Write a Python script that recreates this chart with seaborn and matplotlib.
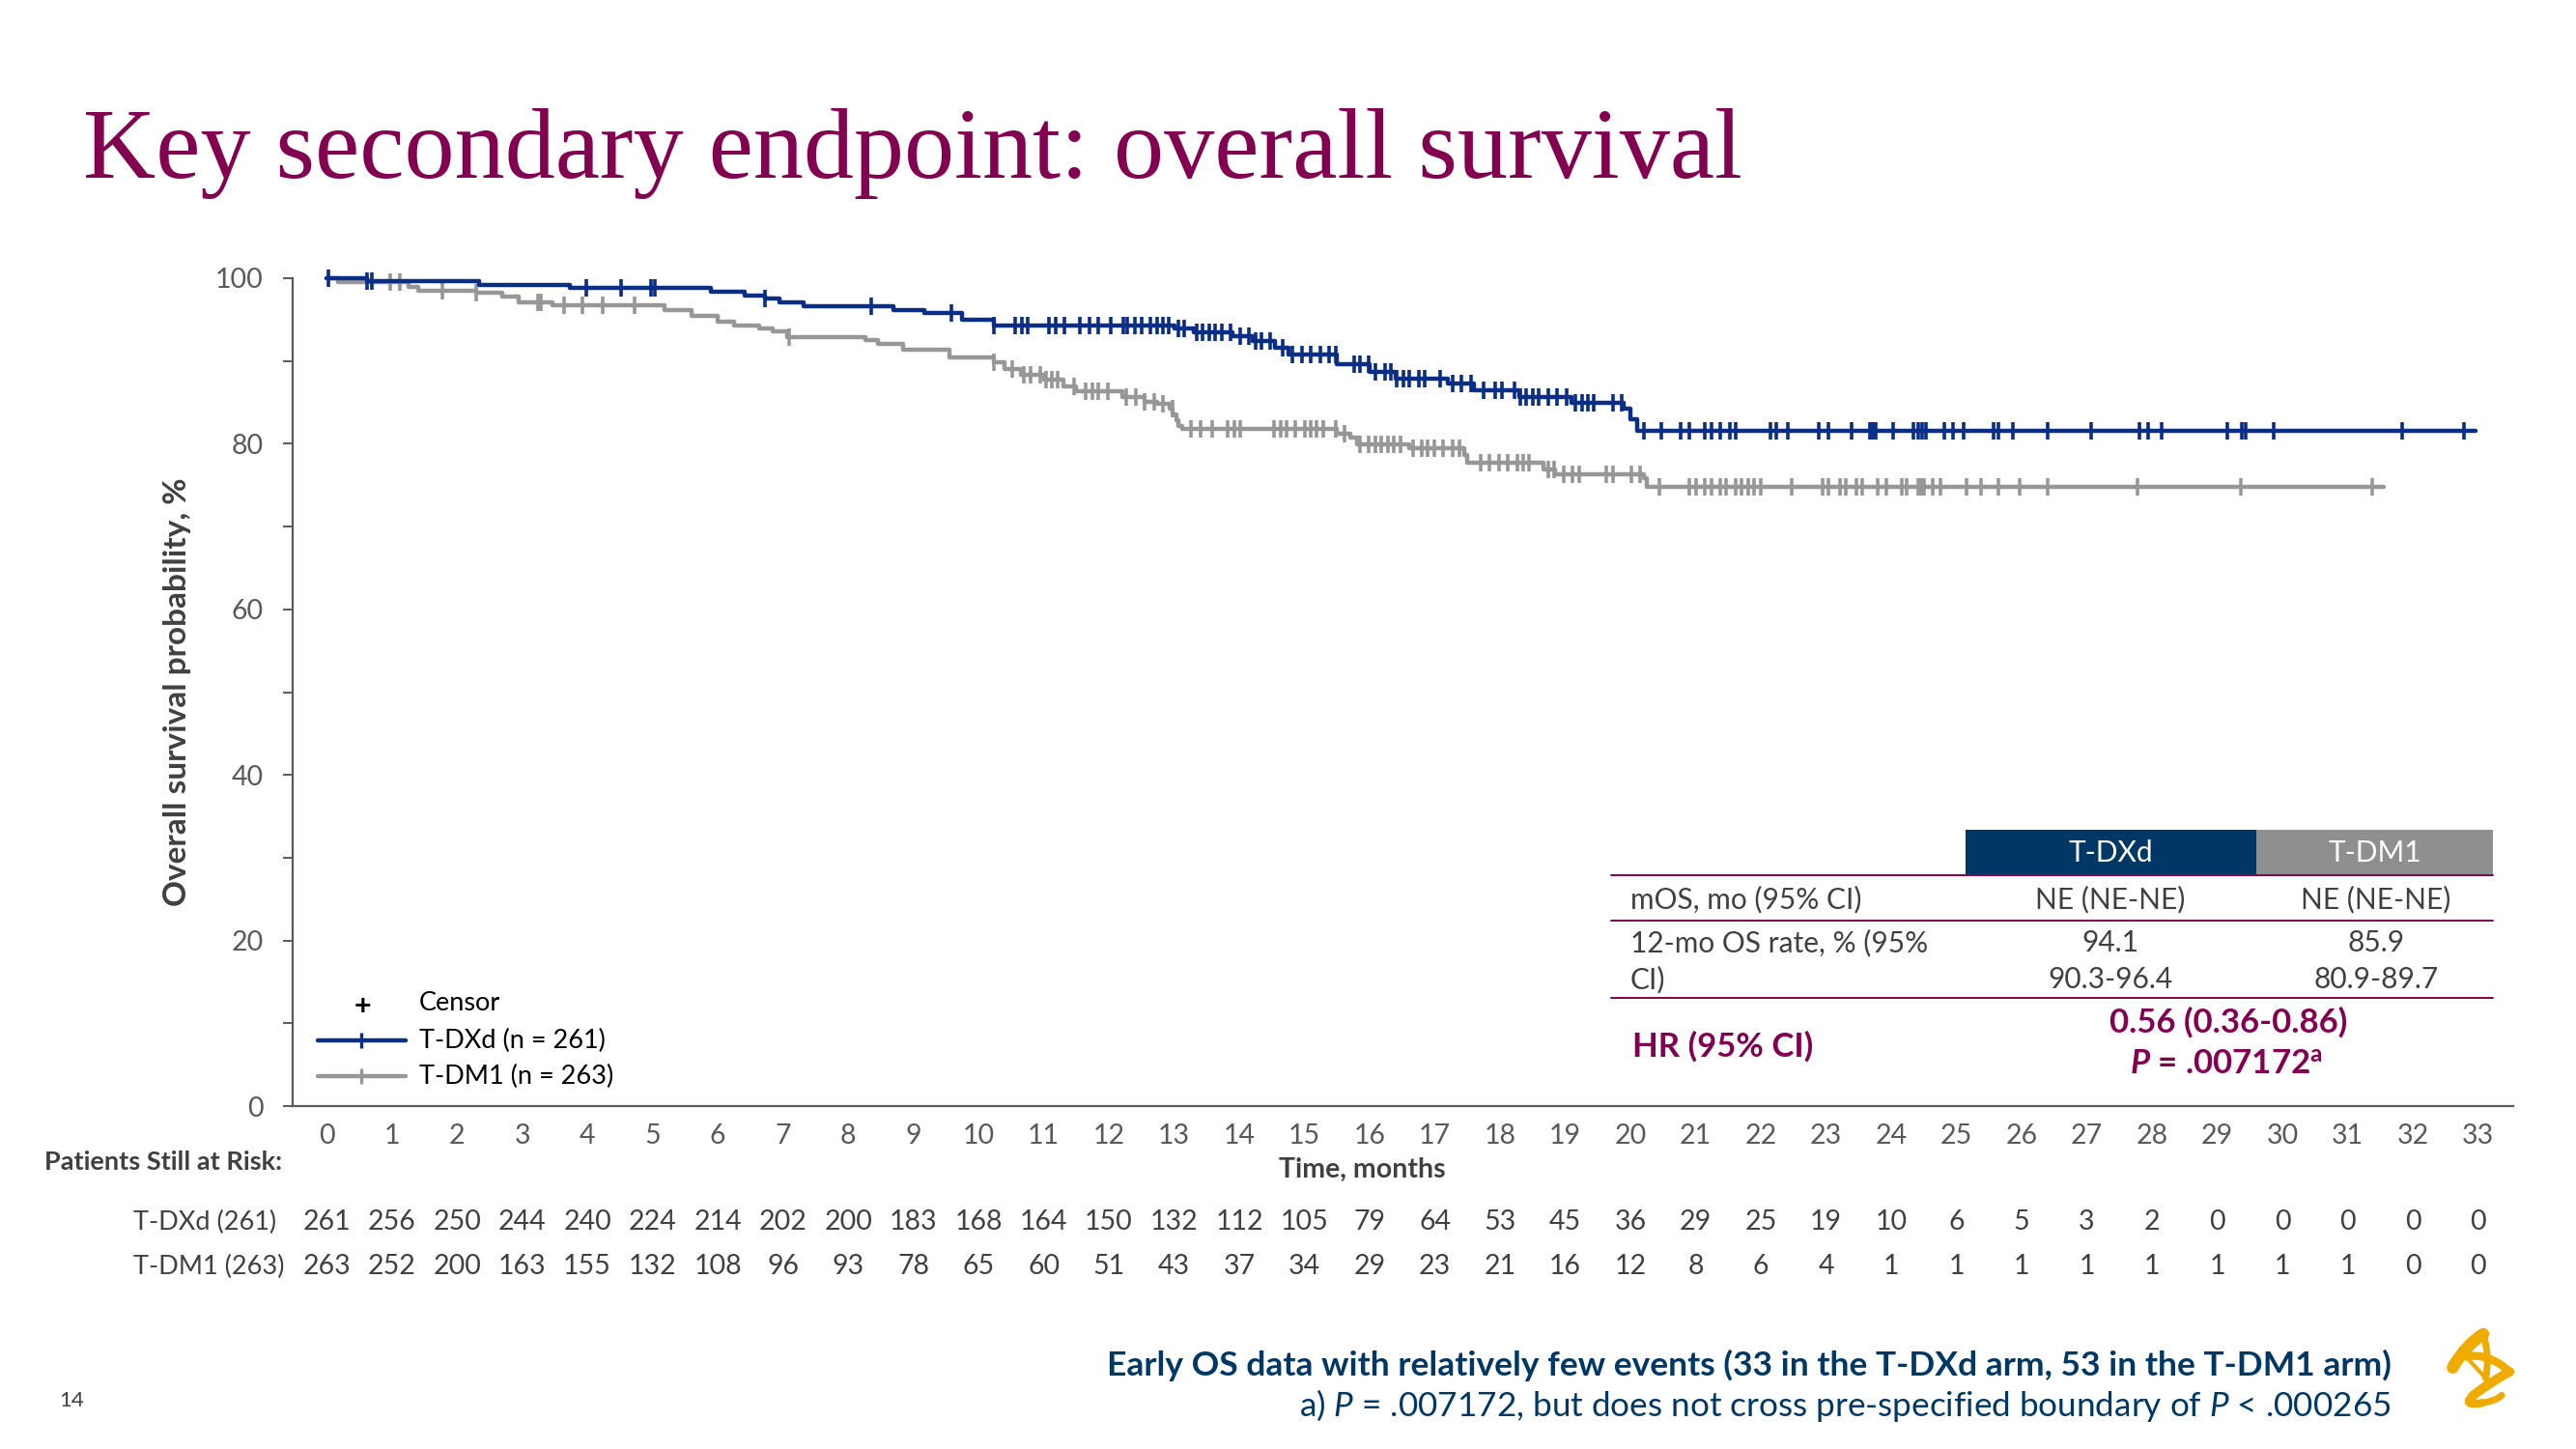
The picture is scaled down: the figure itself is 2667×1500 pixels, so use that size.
import numpy as np
import pandas as pd
import matplotlib
matplotlib.use("Agg")
import matplotlib.pyplot as plt
import matplotlib.transforms as mtransforms
from matplotlib.path import Path
from matplotlib.patches import PathPatch, Rectangle
from matplotlib.lines import Line2D
import seaborn as sns

# ---------------- data ----------------
months = list(range(34))

tdxd_time = [0, 0.62, 2.34, 3.73, 5.90, 6.42, 6.72, 6.95, 7.32, 8.70, 9.17, 9.74, 10.24,
             13.00, 13.30, 13.90, 14.20, 14.55, 14.75, 15.50, 16.00, 16.40, 17.20, 17.60,
             18.30, 19.10, 19.90, 20.00, 20.10]
tdxd_surv = [100, 99.6, 99.2, 98.8, 98.4, 97.9, 97.5, 97.1, 96.6, 96.2, 95.8, 95.0, 94.3,
             93.9, 93.5, 93.0, 92.4, 91.6, 90.8, 89.6, 88.7, 87.9, 87.3, 86.5,
             85.7, 84.9, 84.2, 83.0, 81.6]
tdxd_end = 32.96

tdm1_time = [0, 0.18, 1.26, 1.40, 2.30, 2.70, 2.94, 3.46, 5.19, 5.60, 6.00, 6.25, 6.64, 6.84,
             7.07, 8.27, 8.46, 8.84, 9.55, 10.23, 10.40, 10.65, 11.00, 11.30, 11.50, 12.20,
             12.55, 12.74, 12.93, 12.98, 13.03, 13.07, 13.12, 15.50, 15.70, 15.80, 16.60,
             17.45, 17.50, 18.67, 18.85, 20.20, 20.25]
tdm1_surv = [100, 99.5, 99.0, 98.5, 98.2, 97.8, 97.1, 96.7, 96.1, 95.4, 94.7, 94.3, 93.9, 93.6,
             92.9, 92.5, 92.1, 91.4, 90.4, 89.8, 89.0, 88.3, 87.7, 86.9, 86.3, 85.7,
             85.1, 84.8, 84.2, 83.6, 82.8, 82.2, 81.8, 81.2, 80.7, 79.9, 79.5,
             78.7, 77.7, 76.9, 76.3, 75.8, 74.8]
tdm1_end = 31.55

tdxd_censor = [0.03, 0.62, 0.69, 3.98, 4.52, 4.97, 5.03, 6.72, 8.36, 9.59, 10.24, 10.56, 10.66,
               10.75, 11.08, 11.18, 11.32, 11.55, 11.70, 11.84, 12.03, 12.22, 12.28, 12.40,
               12.50, 12.64, 12.74, 12.83, 12.92, 13.07, 13.16, 13.35, 13.44, 13.54, 13.63,
               13.73, 13.87, 14.01, 14.15, 14.25, 14.34, 14.48, 14.67, 14.81, 14.96, 15.10,
               15.24, 15.38, 15.48, 15.76, 15.85, 15.99, 16.09, 16.23, 16.33, 16.42, 16.52,
               16.61, 16.75, 16.85, 17.08, 17.27, 17.41, 17.55, 17.74, 17.93, 18.03, 18.22,
               18.31, 18.40, 18.50, 18.59, 18.74, 18.88, 19.02, 19.16, 19.26, 19.35, 19.44,
               19.73, 19.87, 20.20, 20.48, 20.77, 20.91, 21.14, 21.24, 21.38, 21.52, 21.62,
               22.14, 22.23, 22.42, 22.89, 23.03, 23.39, 23.68, 23.72, 23.76, 24.03, 24.34,
               24.41, 24.48, 24.53, 24.82, 24.95, 25.11, 25.57, 25.64, 25.87, 26.40, 27.06,
               27.81, 27.94, 28.14, 29.16, 29.38, 29.44, 29.87, 31.83, 32.78]
tdm1_censor = [0.97, 1.12, 1.78, 2.30, 3.24, 3.29, 3.64, 3.93, 4.23, 4.72, 7.09, 10.24, 10.52,
               10.70, 10.80, 10.94, 11.04, 11.13, 11.22, 11.46, 11.65, 11.74, 11.84, 11.98,
               12.26, 12.41, 12.55, 12.69, 12.83, 12.97, 13.26, 13.40, 13.59, 13.82, 13.92,
               14.01, 14.53, 14.63, 14.72, 14.86, 15.00, 15.10, 15.19, 15.29, 15.48, 15.62,
               15.85, 15.99, 16.09, 16.18, 16.28, 16.37, 16.47, 16.66, 16.80, 16.89, 16.99,
               17.13, 17.27, 17.37, 17.70, 17.84, 17.98, 18.12, 18.26, 18.36, 18.45, 18.74,
               18.83, 18.97, 19.11, 19.21, 19.63, 19.73, 20.01, 20.15, 20.44, 20.91, 21.00,
               21.14, 21.24, 21.38, 21.47, 21.62, 21.71, 21.81, 21.90, 22.00, 22.47, 22.94,
               23.03, 23.22, 23.30, 23.47, 23.55, 23.79, 23.92, 24.16, 24.24, 24.41, 24.46,
               24.50, 24.64, 24.75, 25.15, 25.37, 25.64, 25.97, 26.40, 27.78, 29.36, 31.37]

risk_tdxd = [261, 256, 250, 244, 240, 224, 214, 202, 200, 183, 168, 164, 150, 132, 112, 105, 79,
             64, 53, 45, 36, 29, 25, 19, 10, 6, 5, 3, 2, 0, 0, 0, 0, 0]
risk_tdm1 = [263, 252, 200, 163, 155, 132, 108, 96, 93, 78, 65, 60, 51, 43, 37, 34, 29, 23, 21,
             16, 12, 8, 6, 4, 1, 1, 1, 1, 1, 1, 1, 1, 0, 0]

arms = ["T-DXd", "T-DM1"]
legend_labels = ["T-DXd (n = 261)", "T-DM1 (n = 263)"]
risk_labels = ["T-DXd (261)", "T-DM1 (263)"]
table_cols = ["T-DXd", "T-DM1"]
table_mos = ["NE (NE-NE)", "NE (NE-NE)"]
table_rate = ["94.1", "85.9"]
table_ci = ["90.3-96.4", "80.9-89.7"]
hr_text = "0.56 (0.36-0.86)"

# ---------------- style ----------------
sns.set_theme(style="white")
plt.rcParams["font.family"] = ["Lato", "DejaVu Sans"]
plt.rcParams["mathtext.fontset"] = "custom"
plt.rcParams["mathtext.rm"] = "Lato"
plt.rcParams["mathtext.it"] = "Lato:italic"
plt.rcParams["mathtext.bf"] = "Lato:bold"
plt.rcParams["mathtext.bfit"] = "Lato:italic:bold"

BLUE = "#0A2D86"
GRAY = "#979797"
NAVY = "#003865"
MULB = "#830051"
AXC = "#595959"
TXT = "#404040"
GOLD = "#F0AB00"
palette = {"T-DXd": BLUE, "T-DM1": GRAY}

W, H = 2667, 1500
fig = plt.figure(figsize=(W / 100, H / 100), dpi=100)
fig.patch.set_facecolor("white")

# main KM axes (pixel-derived layout)
ax_l, ax_r, ax_t, ax_b = 303, 2602, 288, 1145
ax = fig.add_axes([ax_l / W, 1 - ax_b / H, (ax_r - ax_l) / W, (ax_b - ax_t) / H])
ax.set_facecolor("none")

# build step curves
rows = []
for arm, tt, ss, te in [("T-DXd", tdxd_time, tdxd_surv, tdxd_end),
                        ("T-DM1", tdm1_time, tdm1_surv, tdm1_end)]:
    for t, s in zip(tt + [te], ss + [ss[-1]]):
        rows.append({"time": t, "surv": s, "arm": arm})
curve = pd.DataFrame(rows)

crow = []
for arm, tt, ss, cc in [("T-DXd", tdxd_time, tdxd_surv, tdxd_censor),
                        ("T-DM1", tdm1_time, tdm1_surv, tdm1_censor)]:
    tt_a = np.array(tt)
    for c in cc:
        idx = np.searchsorted(tt_a, c, side="right") - 1
        crow.append({"time": c, "surv": ss[idx], "arm": arm})
cens = pd.DataFrame(crow)

for arm in ["T-DM1", "T-DXd"]:
    sub = curve[curve.arm == arm]
    sns.lineplot(data=sub, x="time", y="surv", color=palette[arm], drawstyle="steps-post",
                 estimator=None, sort=False, linewidth=3.2, ax=ax, legend=False,
                 clip_on=False, zorder=3 if arm == "T-DXd" else 2)
    subc = cens[cens.arm == arm]
    sns.scatterplot(data=subc, x="time", y="surv", color=palette[arm], marker="|", s=150,
                    linewidth=2.6, ax=ax, legend=False, clip_on=False,
                    zorder=4 if arm == "T-DXd" else 2)

ax.set_xlim(-0.52, 33.54)
ax.set_ylim(0, 100)
sns.despine(ax=ax)
for sp in ["left", "bottom"]:
    ax.spines[sp].set_color(AXC)
    ax.spines[sp].set_linewidth(1.6)
ax.set_yticks([0, 20, 40, 60, 80, 100])
ax.set_yticks([10, 30, 50, 70, 90], minor=True)
ax.set_xticks(months)
ax.set_xticklabels([str(m) for m in months])
ax.tick_params(axis="y", which="both", direction="out", length=7, width=1.4, color=AXC,
               labelsize=20.5, labelcolor=AXC, pad=15, left=True)
ax.tick_params(axis="x", length=0, labelsize=20.5, labelcolor=AXC, pad=13)
ax.set_xlabel("")
ax.set_ylabel("")

# overlay axes in pixel coordinates
ov = fig.add_axes([0, 0, 1, 1], zorder=5)
ov.set_xlim(0, W)
ov.set_ylim(H, 0)
ov.axis("off")
ov.patch.set_alpha(0)

# title
ov.text(86, 184, "Key secondary endpoint: overall survival", family=["Liberation Serif"],
        fontsize=75, color=MULB, va="baseline", ha="left")

# y label
ov.text(184, 716, "Overall survival probability, %", rotation=90, fontsize=24,
        fontweight="bold", color=TXT, ha="center", va="center")

# x label & at-risk
ov.text(1410, 1211, "Time, months", fontsize=20.5, fontweight="bold", color=TXT,
        ha="center", va="center")
ov.text(46, 1203, "Patients Still at Risk:", fontsize=19.5, fontweight="bold", color=TXT,
        ha="left", va="center")
blend = mtransforms.blended_transform_factory(ax.transData, ov.transData)
for lab, vals, yy in [(risk_labels[0], risk_tdxd, 1265), (risk_labels[1], risk_tdm1, 1311)]:
    ov.text(138, yy, lab, fontsize=19.5, color=TXT, ha="left", va="center")
    for m, v in zip(months, vals):
        ov.text(m, yy, str(v), transform=blend, fontsize=20.5, color=TXT,
                ha="center", va="center")

# legend
ov.text(375, 1042, "+", fontsize=22, fontweight="bold", color="black", ha="center",
        va="center")
ov.text(434, 1039, "Censor", fontsize=19.5, color="black", ha="left", va="center")
for (arm, lab), yy in zip(zip(arms, legend_labels), [1077, 1114]):
    ov.add_line(Line2D([329, 420], [yy, yy], color=palette[arm], lw=3.2))
    ov.add_line(Line2D([374], [yy], color=palette[arm], marker="|", markersize=12,
                       markeredgewidth=2.4, linestyle="none"))
    ov.text(434, yy, lab, fontsize=19.5, color="black", ha="left", va="center")

# table
tl, tr = 1668, 2581
c1l, c1r, c2r = 2035, 2336, 2581
ov.add_patch(Rectangle((c1l, 859), c1r - c1l, 46, facecolor=NAVY, edgecolor="none"))
ov.add_patch(Rectangle((c1r, 859), c2r - c1r, 46, facecolor="#8F8F8F", edgecolor="none"))
ov.text((c1l + c1r) / 2, 883, table_cols[0], fontsize=21.5, color="white", ha="center",
        va="center")
ov.text((c1r + c2r) / 2, 883, table_cols[1], fontsize=21.5, color="white", ha="center",
        va="center")
for yy in [906, 953, 1033]:
    ov.add_line(Line2D([tl, tr], [yy, yy], color=MULB, lw=1.4))
cx = [2185, 2460]
ov.text(1688, 931, "mOS, mo (95% CI)", fontsize=21.5, color=TXT, ha="left", va="center")
ov.text(1688, 976, "12-mo OS rate, % (95%", fontsize=21.5, color=TXT, ha="left", va="center")
ov.text(1688, 1014, "CI)", fontsize=21.5, color=TXT, ha="left", va="center")
for i in range(2):
    ov.text(cx[i], 931, table_mos[i], fontsize=21.5, color=TXT, ha="center", va="center")
    ov.text(cx[i], 976, table_rate[i], fontsize=21.5, color=TXT, ha="center", va="center")
    ov.text(cx[i], 1014, table_ci[i], fontsize=21.5, color=TXT, ha="center", va="center")
ov.text(1690, 1083, "HR (95% CI)", fontsize=25, fontweight="bold", color=MULB, ha="left",
        va="center")
ov.text(2307, 1058, hr_text, fontsize=25, fontweight="bold", color=MULB, ha="center",
        va="center")
ov.text(2305, 1103, r"$\mathbfit{P}$ = .007172$^{\mathbf{a}}$", fontsize=25,
        fontweight="bold", color=MULB, ha="center", va="center")

# footer
ov.text(2476, 1413, "Early OS data with relatively few events (33 in the T-DXd arm, 53 in the T-DM1 arm)",
        fontsize=25.5, fontweight="bold", color=NAVY, ha="right", va="center")
ov.text(2476, 1455, r"a) $\mathit{P}$ = .007172, but does not cross pre-specified boundary of $\mathit{P}$ < .000265",
        fontsize=25.3, color=NAVY, ha="right", va="center")
ov.text(61, 1450, "14", fontsize=16, color=TXT, ha="left", va="center")

# logo (stylised ribbon)
def zp(x, y):
    return (2510 + x / 3.0, 1365 + y / 3.0)

strokes = [
    ([zp(88, 152), zp(130, 80), zp(183, 48)], 9),
    ([zp(183, 48), zp(205, 120), zp(190, 185)], 5),
    ([zp(128, 118), zp(200, 105), zp(265, 165)], 6),
    ([zp(265, 165), zp(200, 200), zp(150, 240)], 7),
    ([zp(150, 240), zp(115, 272), zp(180, 262)], 6),
    ([zp(180, 262), zp(225, 255), zp(240, 238)], 5),
    ([zp(128, 118), zp(160, 150), zp(190, 185)], 3),
]
for pts, lw in strokes:
    path = Path(pts, [Path.MOVETO, Path.CURVE3, Path.CURVE3])
    ov.add_patch(PathPatch(path, facecolor="none", edgecolor=GOLD, lw=lw,
                           capstyle="round", joinstyle="round"))

fig.savefig("out.png", dpi=100, facecolor="white")
